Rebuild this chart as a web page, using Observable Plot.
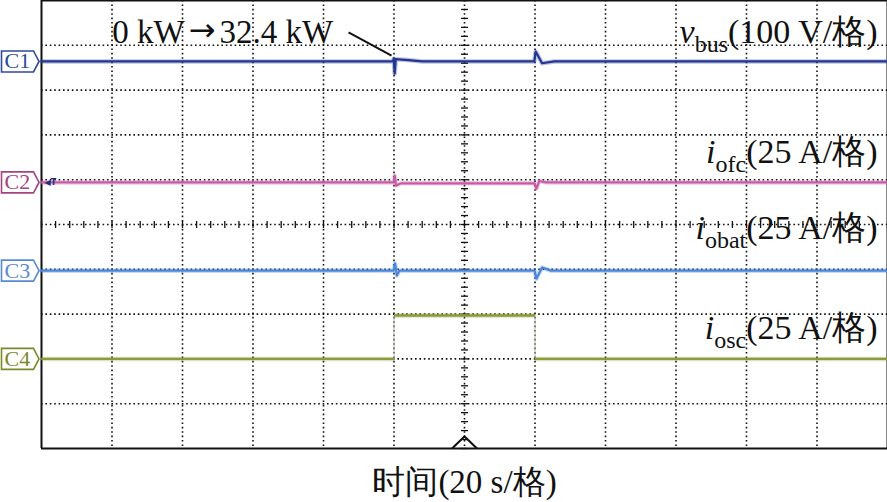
<!DOCTYPE html>
<html><head><meta charset="utf-8">
<script src="https://cdn.jsdelivr.net/npm/d3@7"></script>
<script src="https://cdn.jsdelivr.net/npm/@observablehq/plot@0.6"></script>
<style>body{margin:0;background:#fff} #chart{width:887px;height:502px;overflow:hidden}</style>
</head><body><div id="chart"></div>
<script>
// ---------- data (time in s, trace levels in divisions from the bottom) ----------
const channels = ["C1", "C2", "C3", "C4"];
const channelOffsets = [8.64, 5.94, 3.97, 2.0];

const vbusTime = [0, 99.7, 99.9, 100.2, 100.5, 104, 108, 139.8, 140.2, 142.0, 145.5, 240];
const vbusDiv  = [8.64, 8.64, 8.70, 8.37, 8.69, 8.67, 8.64, 8.64, 8.86, 8.60, 8.64, 8.64];
const iofcTime = [0, 99.9, 100.2, 100.6, 102, 139.9, 140.4, 141.2, 143, 240];
const iofcDiv  = [5.94, 5.94, 6.09, 5.87, 5.92, 5.92, 5.80, 5.97, 5.94, 5.94];
const iobatTime = [0, 99.9, 100.3, 100.8, 101.5, 139.9, 140.4, 142.0, 144.5, 240];
const iobatDiv  = [3.97, 3.97, 4.13, 3.86, 3.97, 3.97, 3.79, 4.04, 3.97, 3.97];
const ioscTime = [0, 100, 100, 140, 140, 240];
const ioscDiv  = [2.0, 2.0, 2.97, 2.97, 2.0, 2.0];

const labelSymbols = ["v", "i", "i", "i"];
const labelSubscripts = ["bus", "ofc", "obat", "osc"];
const labelScales = ["(100 V/格)", "(25 A/格)", "(25 A/格)", "(25 A/格)"];
const annotationParts = ["0 kW", "→", "32.4 kW"];
const captionText = "时间(20 s/格)";
const triggerText = "◀T";

const timePerDiv = 20, hDivs = 12, vDivs = 10;

// ---------- layout / style ----------
const traceColors = ["#22378f", "#c65ba6", "#4c86dc", "#8c9b3c"];
const tagColors = ["#2c4b9a", "#a4447f", "#5a8ad6", "#7a8a2a"];
const labelY = [9.29, 6.61, 4.92, 2.68];
const annotationPos = {x: 20.1, y: 9.29};
const leader = {x1: 87.1, y1: 9.29, x2: 99.3, y2: 8.77};
const serif = "'Liberation Serif','Times New Roman',serif";

const traces = [[vbusTime, vbusDiv], [iofcTime, iofcDiv], [iobatTime, iobatDiv]];
const traceRows = traces.flatMap(([ts, vs], c) => ts.map((t, i) => ({t, v: vs[i], c})));
const oscPts = ioscTime.map((t, i) => ({t, v: ioscDiv[i]}));
const oscFlat = d3.pairs(oscPts).filter(([a, b]) => a.v === b.v);
const fullLabels = labelSymbols.map((s, i) => s + labelSubscripts[i] + labelScales[i]);
const annotationText = annotationParts.join("");

const gridX = d3.range(1, hDivs).map(k => k * timePerDiv);
const gridY = d3.range(1, vDivs);
const tMax = hDivs * timePerDiv, tMid = tMax / 2;
const minorX = d3.range(0, hDivs * 5 + 1).map(k => k * timePerDiv / 5);
const minorY = d3.range(0, vDivs * 5 + 1).map(k => k / 5);

const tag = {draw(ctx) { ctx.moveTo(-40, -10.5); ctx.lineTo(-8, -10.5); ctx.lineTo(-2.5, 0); ctx.lineTo(-8, 10.5); ctx.lineTo(-40, 10.5); ctx.closePath(); }};
const hDash = {draw(ctx) { ctx.moveTo(-3.5, 0); ctx.lineTo(3.5, 0); }};
const vDash = {draw(ctx) { ctx.moveTo(0, -3.5); ctx.lineTo(0, 3.5); }};
const caret = {draw(ctx) { ctx.moveTo(-12.5, 0); ctx.lineTo(0, -12); ctx.lineTo(12.5, 0); }};

const dotted = {stroke: "#111", strokeWidth: 1.6, strokeDasharray: "1.6 2.8"};

const plot = Plot.plot({
  width: 887, height: 502,
  marginLeft: 41, marginRight: 0, marginTop: 0, marginBottom: 54,
  x: {domain: [0, tMax], axis: null},
  y: {domain: [0, vDivs], axis: null},
  color: {type: "identity"},
  style: {background: "white", overflow: "visible"},
  marks: [
    Plot.ruleX(gridX, dotted),
    Plot.ruleY(gridY, dotted),
    Plot.dot(minorY, {x: tMid, y: d => d, symbol: hDash, fill: "none", stroke: "#111", strokeWidth: 1.3}),
    Plot.dot(minorX, {x: d => d, y: vDivs / 2, symbol: vDash, fill: "none", stroke: "#111", strokeWidth: 1.3}),
    // frame
    Plot.ruleX([0], {stroke: "#111", strokeWidth: 2}),
    Plot.ruleX([tMax], {stroke: "#111", strokeWidth: 2}),
    Plot.ruleY([0, vDivs], {stroke: "#111", strokeWidth: 2}),
    // traces
    Plot.line(traceRows, {x: "t", y: "v", z: "c", stroke: d => traceColors[d.c], strokeWidth: 4.5, strokeOpacity: 0.3}),
    Plot.line(traceRows, {x: "t", y: "v", z: "c", stroke: d => traceColors[d.c], strokeWidth: 2.2}),
    Plot.line(oscPts, {x: "t", y: "v", stroke: "#b8b8a8", strokeWidth: 1}),
    Plot.link(oscFlat, {x1: d => d[0].t, y1: d => d[0].v, x2: d => d[1].t, y2: d => d[1].v, stroke: traceColors[3], strokeWidth: 4.5, strokeOpacity: 0.3}),
    Plot.link(oscFlat, {x1: d => d[0].t, y1: d => d[0].v, x2: d => d[1].t, y2: d => d[1].v, stroke: traceColors[3], strokeWidth: 2.4}),
    // channel tags
    Plot.dot(channels, {x: 0, y: (d, i) => channelOffsets[i], symbol: tag, fill: "white", stroke: (d, i) => tagColors[i], strokeWidth: 1.6}),
    Plot.text(channels, {x: 0, y: (d, i) => channelOffsets[i], text: d => d, dx: -37, textAnchor: "start", fill: (d, i) => tagColors[i], fontSize: 22, fontFamily: serif}),
    Plot.text([triggerText], {x: 0, y: channelOffsets[1], text: d => d, dx: 3, textAnchor: "start", fill: "#1f2f80", fontSize: 8, fontWeight: "bold", fontFamily: "DejaVu Sans"}),
    // trigger position caret
    Plot.dot([tMid], {x: d => d, y: 0, symbol: caret, fill: "none", stroke: "#111", strokeWidth: 2}),
    // annotation
    Plot.link([leader], {x1: "x1", y1: "y1", x2: "x2", y2: "y2", stroke: "#111", strokeWidth: 2}),
    Plot.text([annotationText], {x: annotationPos.x, y: annotationPos.y, text: d => d, textAnchor: "start", fontSize: 33, fontFamily: serif, fill: "#111"}),
    // channel labels
    Plot.text(fullLabels, {x: tMax, y: (d, i) => labelY[i], text: d => d, textAnchor: "end", dx: -10, fontSize: 34, fontFamily: serif, fill: "#111"}),
    // caption
    Plot.text([captionText], {x: tMid, frameAnchor: "bottom", dy: 44, text: d => d, fontSize: 33, fontFamily: serif, fill: "#111"})
  ]
});

d3.select(plot).selectAll("text").each(function() {
  const el = d3.select(this);
  const txt = this.textContent;
  const i = fullLabels.indexOf(txt);
  if (i >= 0) {
    el.text(null);
    el.append("tspan").attr("font-style", "italic").text(labelSymbols[i]);
    el.append("tspan").attr("font-size", 24).attr("dy", 9).text(labelSubscripts[i]);
    el.append("tspan").attr("dy", -9).text(labelScales[i]);
  } else if (txt === annotationText) {
    el.text(null);
    el.append("tspan").text(annotationParts[0]);
    el.append("tspan").attr("font-family", "'DejaVu Sans',sans-serif").attr("font-size", 32).attr("dx", 4).attr("dy", -2).text(annotationParts[1]);
    el.append("tspan").attr("dx", 4).attr("dy", 2).text(annotationParts[2]);
  }
});

document.getElementById("chart").appendChild(plot);
</script>
</body></html>
